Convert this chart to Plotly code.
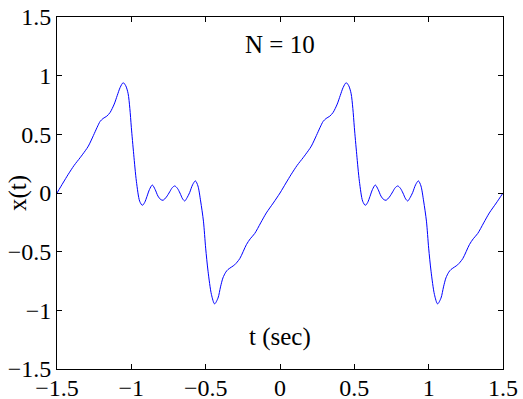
import plotly.graph_objects as go

# values
t_vals = [
    -1.500, -1.460, -1.424, -1.385, -1.345, -1.310, -1.289, -1.255, -1.230, -1.210,
    -1.190, -1.165, -1.143, -1.115, -1.095, -1.075, -1.055, -1.038, -1.022, -1.010,
    -1.000, -0.984, -0.966, -0.944, -0.926, -0.910, -0.895, -0.878, -0.859, -0.840,
    -0.821, -0.803, -0.787, -0.764, -0.742, -0.725, -0.708, -0.690, -0.673, -0.655,
    -0.641, -0.625, -0.608, -0.588, -0.569, -0.552, -0.534, -0.515, -0.500, -0.484,
    -0.461, -0.440, -0.417, -0.400, -0.384, -0.365, -0.350, -0.325, -0.305, -0.271,
    -0.226, -0.200, -0.170, -0.130, -0.092, -0.045,
    0.000, 0.040, 0.076, 0.115, 0.155, 0.190, 0.211, 0.245, 0.270, 0.290,
    0.310, 0.335, 0.357, 0.385, 0.405, 0.425, 0.445, 0.462, 0.478, 0.490,
    0.500, 0.516, 0.534, 0.556, 0.574, 0.590, 0.605, 0.622, 0.641, 0.660,
    0.679, 0.697, 0.713, 0.736, 0.758, 0.775, 0.792, 0.810, 0.827, 0.845,
    0.859, 0.875, 0.892, 0.912, 0.931, 0.948, 0.966, 0.985, 1.000, 1.016,
    1.039, 1.060, 1.083, 1.100, 1.116, 1.135, 1.150, 1.175, 1.195, 1.229,
    1.274, 1.300, 1.330, 1.370, 1.408, 1.455, 1.500,
]
x_vals = [
    0.000, 0.085, 0.160, 0.235, 0.300, 0.360, 0.400, 0.490, 0.560, 0.610,
    0.635, 0.655, 0.686, 0.758, 0.830, 0.900, 0.940, 0.915, 0.850, 0.720,
    0.560, 0.330, 0.100, -0.070, -0.105, -0.080, -0.030, 0.030, 0.068, 0.030,
    -0.026, -0.055, -0.062, -0.034, 0.010, 0.045, 0.060, 0.040, 0.000, -0.050,
    -0.068, -0.040, 0.003, 0.070, 0.103, 0.060, -0.068, -0.240, -0.470, -0.667,
    -0.866, -0.945, -0.895, -0.800, -0.724, -0.675, -0.652, -0.630, -0.612, -0.560,
    -0.440, -0.390, -0.345, -0.255, -0.170, -0.085,
    0.000, 0.085, 0.160, 0.235, 0.300, 0.360, 0.400, 0.490, 0.560, 0.610,
    0.635, 0.655, 0.686, 0.758, 0.830, 0.900, 0.940, 0.915, 0.850, 0.720,
    0.560, 0.330, 0.100, -0.070, -0.105, -0.080, -0.030, 0.030, 0.068, 0.030,
    -0.026, -0.055, -0.062, -0.034, 0.010, 0.045, 0.060, 0.040, 0.000, -0.050,
    -0.068, -0.040, 0.003, 0.070, 0.103, 0.060, -0.068, -0.240, -0.470, -0.667,
    -0.866, -0.945, -0.895, -0.800, -0.724, -0.675, -0.652, -0.630, -0.612, -0.560,
    -0.440, -0.390, -0.345, -0.255, -0.170, -0.085, 0.000,
]

title_text = "N = 10"
x_label = "t (sec)"
y_label = "x(t)"

FONT = "Liberation Serif, Times New Roman, serif"
FS = 24
FS_ANN = 25

fig = go.Figure()
fig.add_trace(go.Scatter(
    x=t_vals, y=x_vals, mode="lines",
    line=dict(color="#0000ff", width=1, shape="spline", smoothing=0.8),
    hoverinfo="skip", showlegend=False,
))

axis_common = dict(
    showline=True, linecolor="black", linewidth=1, mirror="ticks",
    ticks="inside", ticklen=5, tickcolor="black", tickwidth=1,
    showgrid=False, zeroline=False, dtick=0.5, automargin=False,
    tickfont=dict(family=FONT, size=FS, color="black"),
)
fig.update_xaxes(range=[-1.5, 1.5], tick0=-1.5, ticklabelstandoff=-3, **axis_common)
fig.update_yaxes(range=[-1.5, 1.5], tick0=-1.5, **axis_common)

W, H = 523, 399
L, T = 57, 17
PW, PH = 446, 352
R, B = W - L - PW, H - T - PH

fig.add_annotation(text=title_text, x=0.5, y=1.265, xref="paper", yref="y",
                   showarrow=False, font=dict(family=FONT, size=FS_ANN, color="black"))
fig.add_annotation(text=x_label, x=0.5, y=-1.23, xref="paper", yref="y",
                   showarrow=False, font=dict(family=FONT, size=FS_ANN, color="black"))
fig.add_annotation(text=y_label, x=-39 / PW, y=0.5, xref="paper", yref="paper",
                   showarrow=False, textangle=-90, xanchor="center", yanchor="middle",
                   font=dict(family=FONT, size=FS_ANN, color="black"))

fig.update_layout(
    width=W, height=H,
    margin=dict(l=L, r=R, t=T, b=B, autoexpand=False),
    paper_bgcolor="white", plot_bgcolor="white",
)

# remove the browser's default page margin so the figure sits at (0, 0)
fig.write_html(
    "out.html",
    config={"displayModeBar": False},
    post_script="document.body.style.margin='0';document.body.style.overflow='hidden';",
)
